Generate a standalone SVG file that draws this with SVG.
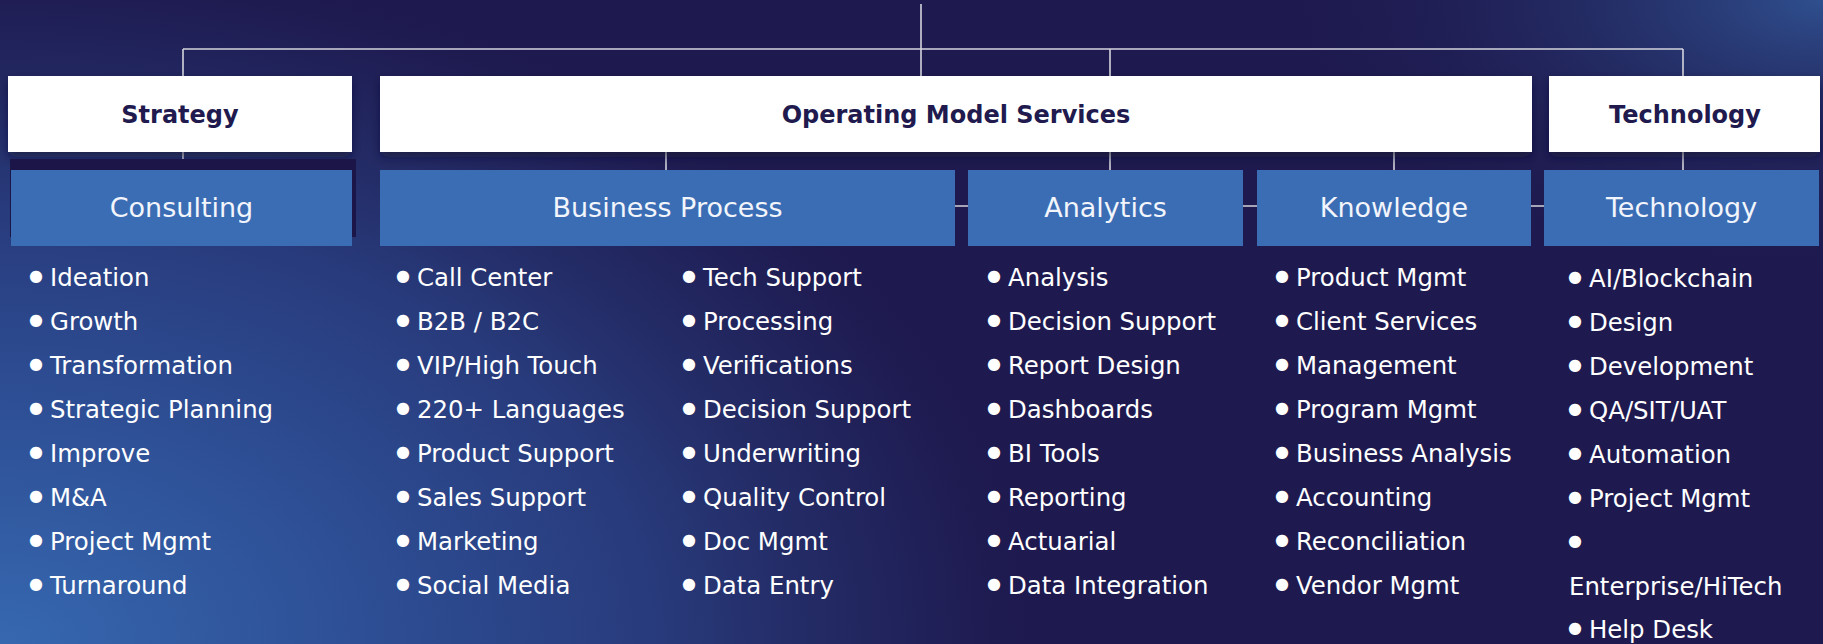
<svg xmlns="http://www.w3.org/2000/svg" width="1823" height="644" viewBox="0 0 1823 644">
<defs>
<radialGradient id="glowBL" gradientUnits="userSpaceOnUse" cx="0" cy="0" r="1" gradientTransform="translate(0 644) scale(1050 700)">
<stop offset="0" stop-color="#3668b0"/>
<stop offset="0.38" stop-color="#2d4c92"/>
<stop offset="0.62" stop-color="#283b7c"/>
<stop offset="0.75" stop-color="#242d68"/>
<stop offset="0.92" stop-color="#1f1d54"/>
<stop offset="1" stop-color="#1e1a4f" stop-opacity="0"/>
</radialGradient>
<radialGradient id="glowTR" gradientUnits="userSpaceOnUse" cx="0" cy="0" r="1" gradientTransform="translate(1823 0) scale(560 280)">
<stop offset="0" stop-color="#2f4f8e"/>
<stop offset="1" stop-color="#1e1a4f" stop-opacity="0"/>
</radialGradient>
<filter id="shadow" x="-10%" y="-30%" width="120%" height="170%">
<feDropShadow dx="0" dy="5" stdDeviation="5" flood-color="#0d0a30" flood-opacity="0.55"/>
</filter>
<style>
.head{fill:#ffffff;filter:url(#shadow)}
.headt{font-family:"DejaVu Sans",sans-serif;font-weight:bold;font-size:24px;fill:#201a4e;text-anchor:middle}
.cat{fill:#3b6db5}
.catt{font-family:"DejaVu Sans",sans-serif;font-size:27px;fill:#f2f5fb;text-anchor:middle}
.li{font-family:"DejaVu Sans",sans-serif;font-size:24.4px;fill:#ffffff}
.bul{font-size:16px;text-anchor:middle}
.conn{stroke:#d4d4dc;stroke-width:1.6;fill:none}
</style>
</defs>
<rect width="1823" height="644" fill="#1e1a4f"/>
<rect width="1823" height="644" fill="url(#glowBL)"/>
<rect width="1823" height="644" fill="url(#glowTR)"/>

<g id="connectors" class="conn">
<path d="M921 4V76"/>
<path d="M183 49H1683"/>
<path d="M183 49V76M1110 49V76M1683 49V76"/>
<path d="M183 152V170M666 152V170M1110 152V170M1394 152V170M1683 152V170"/>
<path d="M955 206H968M1243 206H1257M1531 206H1544"/>
</g>

<g id="strategy">
<rect class="head" x="8" y="76" width="344" height="76"/>
<text class="headt" x="180" y="123">Strategy</text>
</g>
<g id="operating-model-services">
<rect class="head" x="380" y="76" width="1152" height="76"/>
<text class="headt" x="956" y="123">Operating Model Services</text>
</g>
<g id="technology-head">
<rect class="head" x="1549" y="76" width="271" height="76"/>
<text class="headt" x="1685" y="123">Technology</text>
</g>

<g id="consulting">
<rect x="10" y="159" width="346" height="78" fill="#1c1548"/>
<rect class="cat" x="11" y="170" width="341" height="76"/>
<text class="catt" x="181.5" y="217">Consulting</text>
<text class="li" y="286"><tspan class="bul" x="36" dy="-5">●</tspan><tspan x="50" dy="5">Ideation</tspan></text>
<text class="li" y="330"><tspan class="bul" x="36" dy="-5">●</tspan><tspan x="50" dy="5">Growth</tspan></text>
<text class="li" y="374"><tspan class="bul" x="36" dy="-5">●</tspan><tspan x="50" dy="5">Transformation</tspan></text>
<text class="li" y="418"><tspan class="bul" x="36" dy="-5">●</tspan><tspan x="50" dy="5">Strategic Planning</tspan></text>
<text class="li" y="462"><tspan class="bul" x="36" dy="-5">●</tspan><tspan x="50" dy="5">Improve</tspan></text>
<text class="li" y="506"><tspan class="bul" x="36" dy="-5">●</tspan><tspan x="50" dy="5">M&amp;A</tspan></text>
<text class="li" y="550"><tspan class="bul" x="36" dy="-5">●</tspan><tspan x="50" dy="5">Project Mgmt</tspan></text>
<text class="li" y="594"><tspan class="bul" x="36" dy="-5">●</tspan><tspan x="50" dy="5">Turnaround</tspan></text>
</g>

<g id="business-process">
<rect class="cat" x="380" y="170" width="575" height="76"/>
<text class="catt" x="667.5" y="217">Business Process</text>
<text class="li" y="286"><tspan class="bul" x="403" dy="-5">●</tspan><tspan x="417" dy="5">Call Center</tspan></text>
<text class="li" y="330"><tspan class="bul" x="403" dy="-5">●</tspan><tspan x="417" dy="5">B2B / B2C</tspan></text>
<text class="li" y="374"><tspan class="bul" x="403" dy="-5">●</tspan><tspan x="417" dy="5">VIP/High Touch</tspan></text>
<text class="li" y="418"><tspan class="bul" x="403" dy="-5">●</tspan><tspan x="417" dy="5">220+ Languages</tspan></text>
<text class="li" y="462"><tspan class="bul" x="403" dy="-5">●</tspan><tspan x="417" dy="5">Product Support</tspan></text>
<text class="li" y="506"><tspan class="bul" x="403" dy="-5">●</tspan><tspan x="417" dy="5">Sales Support</tspan></text>
<text class="li" y="550"><tspan class="bul" x="403" dy="-5">●</tspan><tspan x="417" dy="5">Marketing</tspan></text>
<text class="li" y="594"><tspan class="bul" x="403" dy="-5">●</tspan><tspan x="417" dy="5">Social Media</tspan></text>
<text class="li" y="286"><tspan class="bul" x="689" dy="-5">●</tspan><tspan x="703" dy="5">Tech Support</tspan></text>
<text class="li" y="330"><tspan class="bul" x="689" dy="-5">●</tspan><tspan x="703" dy="5">Processing</tspan></text>
<text class="li" y="374"><tspan class="bul" x="689" dy="-5">●</tspan><tspan x="703" dy="5">Verifications</tspan></text>
<text class="li" y="418"><tspan class="bul" x="689" dy="-5">●</tspan><tspan x="703" dy="5">Decision Support</tspan></text>
<text class="li" y="462"><tspan class="bul" x="689" dy="-5">●</tspan><tspan x="703" dy="5">Underwriting</tspan></text>
<text class="li" y="506"><tspan class="bul" x="689" dy="-5">●</tspan><tspan x="703" dy="5">Quality Control</tspan></text>
<text class="li" y="550"><tspan class="bul" x="689" dy="-5">●</tspan><tspan x="703" dy="5">Doc Mgmt</tspan></text>
<text class="li" y="594"><tspan class="bul" x="689" dy="-5">●</tspan><tspan x="703" dy="5">Data Entry</tspan></text>
</g>

<g id="analytics">
<rect class="cat" x="968" y="170" width="275" height="76"/>
<text class="catt" x="1105.5" y="217">Analytics</text>
<text class="li" y="286"><tspan class="bul" x="994" dy="-5">●</tspan><tspan x="1008" dy="5">Analysis</tspan></text>
<text class="li" y="330"><tspan class="bul" x="994" dy="-5">●</tspan><tspan x="1008" dy="5">Decision Support</tspan></text>
<text class="li" y="374"><tspan class="bul" x="994" dy="-5">●</tspan><tspan x="1008" dy="5">Report Design</tspan></text>
<text class="li" y="418"><tspan class="bul" x="994" dy="-5">●</tspan><tspan x="1008" dy="5">Dashboards</tspan></text>
<text class="li" y="462"><tspan class="bul" x="994" dy="-5">●</tspan><tspan x="1008" dy="5">BI Tools</tspan></text>
<text class="li" y="506"><tspan class="bul" x="994" dy="-5">●</tspan><tspan x="1008" dy="5">Reporting</tspan></text>
<text class="li" y="550"><tspan class="bul" x="994" dy="-5">●</tspan><tspan x="1008" dy="5">Actuarial</tspan></text>
<text class="li" y="594"><tspan class="bul" x="994" dy="-5">●</tspan><tspan x="1008" dy="5">Data Integration</tspan></text>
</g>

<g id="knowledge">
<rect class="cat" x="1257" y="170" width="274" height="76"/>
<text class="catt" x="1394" y="217">Knowledge</text>
<text class="li" y="286"><tspan class="bul" x="1282" dy="-5">●</tspan><tspan x="1296" dy="5">Product Mgmt</tspan></text>
<text class="li" y="330"><tspan class="bul" x="1282" dy="-5">●</tspan><tspan x="1296" dy="5">Client Services</tspan></text>
<text class="li" y="374"><tspan class="bul" x="1282" dy="-5">●</tspan><tspan x="1296" dy="5">Management</tspan></text>
<text class="li" y="418"><tspan class="bul" x="1282" dy="-5">●</tspan><tspan x="1296" dy="5">Program Mgmt</tspan></text>
<text class="li" y="462"><tspan class="bul" x="1282" dy="-5">●</tspan><tspan x="1296" dy="5">Business Analysis</tspan></text>
<text class="li" y="506"><tspan class="bul" x="1282" dy="-5">●</tspan><tspan x="1296" dy="5">Accounting</tspan></text>
<text class="li" y="550"><tspan class="bul" x="1282" dy="-5">●</tspan><tspan x="1296" dy="5">Reconciliation</tspan></text>
<text class="li" y="594"><tspan class="bul" x="1282" dy="-5">●</tspan><tspan x="1296" dy="5">Vendor Mgmt</tspan></text>
</g>

<g id="technology">
<rect class="cat" x="1544" y="170" width="275" height="76"/>
<text class="catt" x="1681.5" y="217">Technology</text>
<text class="li" y="287"><tspan class="bul" x="1575" dy="-5">●</tspan><tspan x="1589" dy="5">AI/Blockchain</tspan></text>
<text class="li" y="331"><tspan class="bul" x="1575" dy="-5">●</tspan><tspan x="1589" dy="5">Design</tspan></text>
<text class="li" y="375"><tspan class="bul" x="1575" dy="-5">●</tspan><tspan x="1589" dy="5">Development</tspan></text>
<text class="li" y="419"><tspan class="bul" x="1575" dy="-5">●</tspan><tspan x="1589" dy="5">QA/SIT/UAT</tspan></text>
<text class="li" y="463"><tspan class="bul" x="1575" dy="-5">●</tspan><tspan x="1589" dy="5">Automation</tspan></text>
<text class="li" y="507"><tspan class="bul" x="1575" dy="-5">●</tspan><tspan x="1589" dy="5">Project Mgmt</tspan></text>
<text class="li" y="551"><tspan class="bul" x="1575" dy="-5">●</tspan></text>
<text class="li" x="1569" y="595">Enterprise/HiTech</text>
<text class="li" y="638"><tspan class="bul" x="1575" dy="-5">●</tspan><tspan x="1589" dy="5">Help Desk</tspan></text>
</g>
</svg>
